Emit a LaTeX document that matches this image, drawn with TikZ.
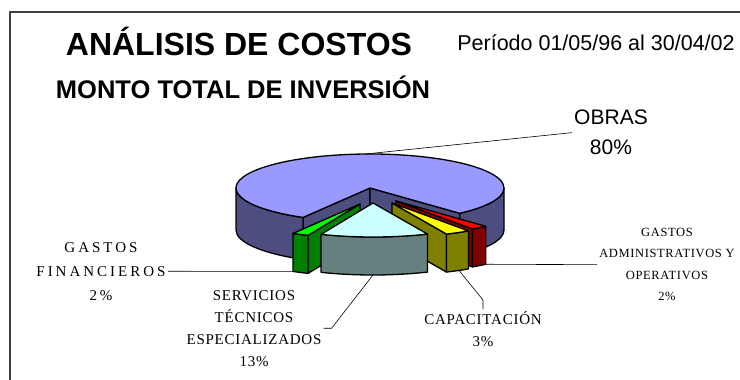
\documentclass[tikz,border=0pt]{standalone}
\usepackage{fontspec}
\setmainfont{Liberation Sans}
\newfontfamily\lblfont[LetterSpace=5]{Liberation Serif}
\newfontfamily\lblwide[LetterSpace=20]{Liberation Serif}
\usepackage{tikz}
\usetikzlibrary{positioning}

\definecolor{obrastop}{HTML}{9999FF}
\definecolor{obrasside}{HTML}{4D4D80}
\definecolor{servtop}{HTML}{CCFFFF}
\definecolor{servside}{HTML}{668080}
\definecolor{fintop}{HTML}{00FF00}
\definecolor{finside}{HTML}{008000}
\definecolor{capatop}{HTML}{FFFF00}
\definecolor{capaside}{HTML}{808000}
\definecolor{admtop}{HTML}{FF0000}
\definecolor{admside}{HTML}{800000}

\begin{document}
\begin{tikzpicture}[x=1pt,y=-1pt,
  wedge/.style={draw=black,line width=1.3pt,line join=round},
  rim/.style={x radius=134,y radius=34},
  leader/.style={draw=black,line width=0.6pt},
  pielabel/.style={font=\lblfont\fontsize{15}{22}\selectfont,align=center,inner sep=2pt}]

  \useasboundingbox (0,0) rectangle (740,380);
  \draw[line width=1.4pt,black!75] (10,380) -- (10,12) -- (740,12);

  % titles
  \node[anchor=base,font=\bfseries\fontsize{32}{36}\selectfont] (title) at (239,56) {ANÁLISIS DE COSTOS};
  \node[anchor=base,font=\bfseries\fontsize{25.5}{30}\selectfont] (subtitle) at (243,98) {MONTO TOTAL DE INVERSIÓN};
  \node[anchor=base,font=\fontsize{21.5}{26}\selectfont] (period) at (596,50) {Período 01/05/96 al 30/04/02};

  % obras 80%
  \begin{scope}[shift={(370,188)}]
    \filldraw[wedge,fill=obrasside] (0,0) -- (120:134 and 34) -- ++(0,42) -- (0,42) -- cycle;
    \filldraw[wedge,fill=obrasside] (0,0) -- (48:134 and 34) -- ++(0,42) -- (0,42) -- cycle;
    \filldraw[wedge,fill=obrasside] (120:134 and 34) arc[rim,start angle=120,end angle=180] -- ++(0,42) arc[rim,start angle=180,end angle=120] -- cycle;
    \filldraw[wedge,fill=obrasside] (0:134 and 34) arc[rim,start angle=0,end angle=48] -- ++(0,42) arc[rim,start angle=48,end angle=0] -- cycle;
    \filldraw[wedge,fill=obrastop] (0,0) -- (120:134 and 34) arc[rim,start angle=120,end angle=408] -- cycle;
    \coordinate (sobras) at (268:134 and 34);
  \end{scope}

  % gastos administrativos 2%
  \begin{scope}[shift={(396,201)}]
    \filldraw[wedge,fill=admside] (0,0) -- (55.2:134 and 34) -- ++(0,38) -- (0,38) -- cycle;
    \filldraw[wedge,fill=admside] (48:134 and 34) arc[rim,start angle=48,end angle=55.2] -- ++(0,38) arc[rim,start angle=55.2,end angle=48] -- cycle;
    \filldraw[wedge,fill=admtop] (0,0) -- (48:134 and 34) arc[rim,start angle=48,end angle=55.2] -- cycle;
    \path (48:134 and 34) ++(0,38) coordinate (sadm);
  \end{scope}

  % capacitacion 3%
  \begin{scope}[shift={(392,203)}]
    \filldraw[wedge,fill=capaside] (0,0) -- (66:134 and 34) -- ++(0,38) -- (0,38) -- cycle;
    \filldraw[wedge,fill=capaside] (55.2:134 and 34) arc[rim,start angle=55.2,end angle=66] -- ++(0,38) arc[rim,start angle=66,end angle=55.2] -- cycle;
    \filldraw[wedge,fill=capatop] (0,0) -- (55.2:134 and 34) arc[rim,start angle=55.2,end angle=66] -- cycle;
    \path (60:134 and 34) ++(0,38) coordinate (scapa);
  \end{scope}

  % gastos financieros 2%
  \begin{scope}[shift={(360,204)}]
    \filldraw[wedge,fill=finside] (0,0) -- (112.8:134 and 34) -- ++(0,38) -- (0,38) -- cycle;
    \filldraw[wedge,fill=finside] (112.8:134 and 34) arc[rim,start angle=112.8,end angle=120] -- ++(0,38) arc[rim,start angle=120,end angle=112.8] -- cycle;
    \filldraw[wedge,fill=fintop] (0,0) -- (112.8:134 and 34) arc[rim,start angle=112.8,end angle=120] -- cycle;
    \path (120:134 and 34) ++(0,38) coordinate (sfin);
  \end{scope}

  % servicios tecnicos 13%
  \begin{scope}[shift={(373,203)}]
    \filldraw[wedge,fill=servside] (66:134 and 34) arc[rim,start angle=66,end angle=112.8] -- ++(0,38) arc[rim,start angle=112.8,end angle=66] -- cycle;
    \filldraw[wedge,fill=servtop] (0,0) -- (66:134 and 34) arc[rim,start angle=66,end angle=112.8] -- cycle;
    \path (90:134 and 34) ++(0,38) coordinate (sserv);
  \end{scope}

  % labels
  \node[anchor=north,align=center,inner sep=2pt,font=\fontsize{21}{30}\selectfont] (obras) at (611,108) {OBRAS\\80\%};
  \node[pielabel,anchor=north,font=\lblwide\fontsize{15}{24}\selectfont] (gfin) at (101,240) {GASTOS\\FINANCIEROS\\2\%};
  \node[pielabel,anchor=north] (serv) at (254,288) {SERVICIOS\\TÉCNICOS\\ESPECIALIZADOS\\13\%};
  \node[pielabel,anchor=north] (capa) at (483,309) {CAPACITACIÓN\\3\%};
  \node[pielabel,anchor=north,font=\lblfont\fontsize{12.5}{21.5}\selectfont] (gadm) at (667,226) {GASTOS\\ADMINISTRATIVOS Y\\OPERATIVOS\\2\%};

  \draw[leader] (sobras) -- (obras.west);
  \draw[leader] (sfin) -- (gfin.east);
  \draw[leader] (sserv) -- ([xshift=8pt]serv.east) -- (serv.east);
  \draw[leader] (scapa) -- ([yshift=9pt]capa.north) -- (capa.north);
  \draw[leader] (sadm) -- (gadm.west);
\end{tikzpicture}
\end{document}
